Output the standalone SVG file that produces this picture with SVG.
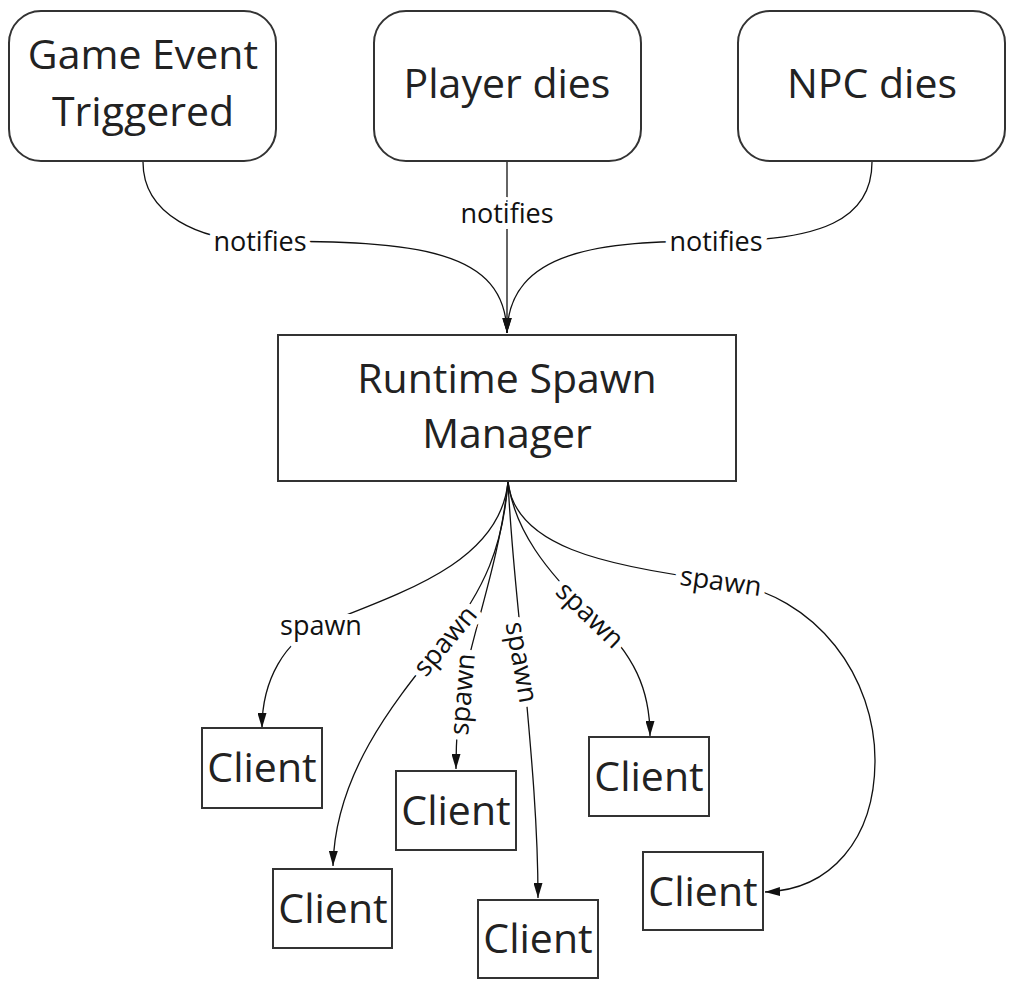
<svg xmlns="http://www.w3.org/2000/svg" width="1015" height="984" viewBox="0 0 1015 984">
<defs>
<style>
.node{fill:#fff;stroke:#333;stroke-width:2}
.nt{font-family:"Open Sans","Noto Sans","DejaVu Sans",sans-serif;font-size:41px;fill:#222;text-anchor:middle}
.edge{fill:none;stroke:#111;stroke-width:1.3}
.lbl{font-family:"Open Sans","Noto Sans","DejaVu Sans",sans-serif;font-size:27px;fill:#111;text-anchor:middle;dominant-baseline:central;stroke:#fff;stroke-width:12;stroke-linejoin:round;paint-order:stroke}
</style>
<marker id="arr" markerUnits="userSpaceOnUse" markerWidth="15" markerHeight="9" refX="15" refY="4.5" orient="auto">
<path d="M0,0 L15,4.5 L0,9 z" fill="#111"/>
</marker>
</defs>
<rect width="1015" height="984" fill="#fff"/>
<g id="connectors">
<path class="edge" marker-end="url(#arr)" d="M143,162 C143,215 200,241 260,241 C420,241 505,250 507,333"/>
<path class="edge" marker-end="url(#arr)" d="M507,162 L507,333"/>
<path class="edge" marker-end="url(#arr)" d="M872,162 C872,220 820,241 716,241 C600,241 509,250 507,333"/>
<path class="edge" marker-end="url(#arr)" d="M508,482 C500,560 410,590 321,625 C285,640 262,680 262,728"/>
<path class="edge" marker-end="url(#arr)" d="M508,482 C503,545 485,590 444,640 C400,695 335,770 333,866"/>
<path class="edge" marker-end="url(#arr)" d="M508,482 C500,560 470,640 461,694 C458,715 456,740 456,769"/>
<path class="edge" marker-end="url(#arr)" d="M508,482 C512,560 520,620 523,662 C530,740 538,820 538,898"/>
<path class="edge" marker-end="url(#arr)" d="M508,482 C515,530 545,570 591,614 C635,655 650,690 650,736"/>
<path class="edge" marker-end="url(#arr)" d="M508,482 C515,545 600,566 721,581 C820,595 875,680 875,760 C875,840 830,890 765,892"/>
<text class="lbl" x="260" y="240">notifies</text>
<text class="lbl" x="507" y="212">notifies</text>
<text class="lbl" x="716" y="240">notifies</text>
<text class="lbl" x="321" y="624">spawn</text>
<text class="lbl" x="444" y="640" transform="rotate(-50 444 640)">spawn</text>
<text class="lbl" x="461" y="694" transform="rotate(-85 461 694)">spawn</text>
<text class="lbl" x="523" y="662" transform="rotate(80 523 662)">spawn</text>
<text class="lbl" x="591" y="614" transform="rotate(44 591 614)">spawn</text>
<text class="lbl" x="721" y="580" transform="rotate(8 721 580)">spawn</text>
</g>
<g id="game-event">
<rect class="node" x="9" y="11" width="267" height="150" rx="32"/>
<text class="nt" x="143" y="69">Game Event</text>
<text class="nt" x="143" y="126">Triggered</text>
</g>
<g id="player-dies">
<rect class="node" x="374" y="11" width="267" height="150" rx="32"/>
<text class="nt" x="507" y="98">Player dies</text>
</g>
<g id="npc-dies">
<rect class="node" x="738" y="11" width="267" height="150" rx="32"/>
<text class="nt" x="872" y="98">NPC dies</text>
</g>
<g id="runtime-spawn-manager">
<rect class="node" x="278" y="335" width="458" height="146"/>
<text class="nt" x="507" y="393">Runtime Spawn</text>
<text class="nt" x="507" y="448">Manager</text>
</g>
<g id="client-1">
<rect class="node" x="202" y="728" width="120" height="80"/>
<text class="nt" x="262" y="782">Client</text>
</g>
<g id="client-2">
<rect class="node" x="273" y="869" width="119" height="79"/>
<text class="nt" x="333" y="923">Client</text>
</g>
<g id="client-3">
<rect class="node" x="396" y="771" width="120" height="79"/>
<text class="nt" x="456" y="825">Client</text>
</g>
<g id="client-4">
<rect class="node" x="478" y="900" width="120" height="78"/>
<text class="nt" x="538" y="953">Client</text>
</g>
<g id="client-5">
<rect class="node" x="589" y="737" width="120" height="79"/>
<text class="nt" x="649" y="791">Client</text>
</g>
<g id="client-6">
<rect class="node" x="643" y="852" width="120" height="78"/>
<text class="nt" x="703" y="906">Client</text>
</g>
</svg>
